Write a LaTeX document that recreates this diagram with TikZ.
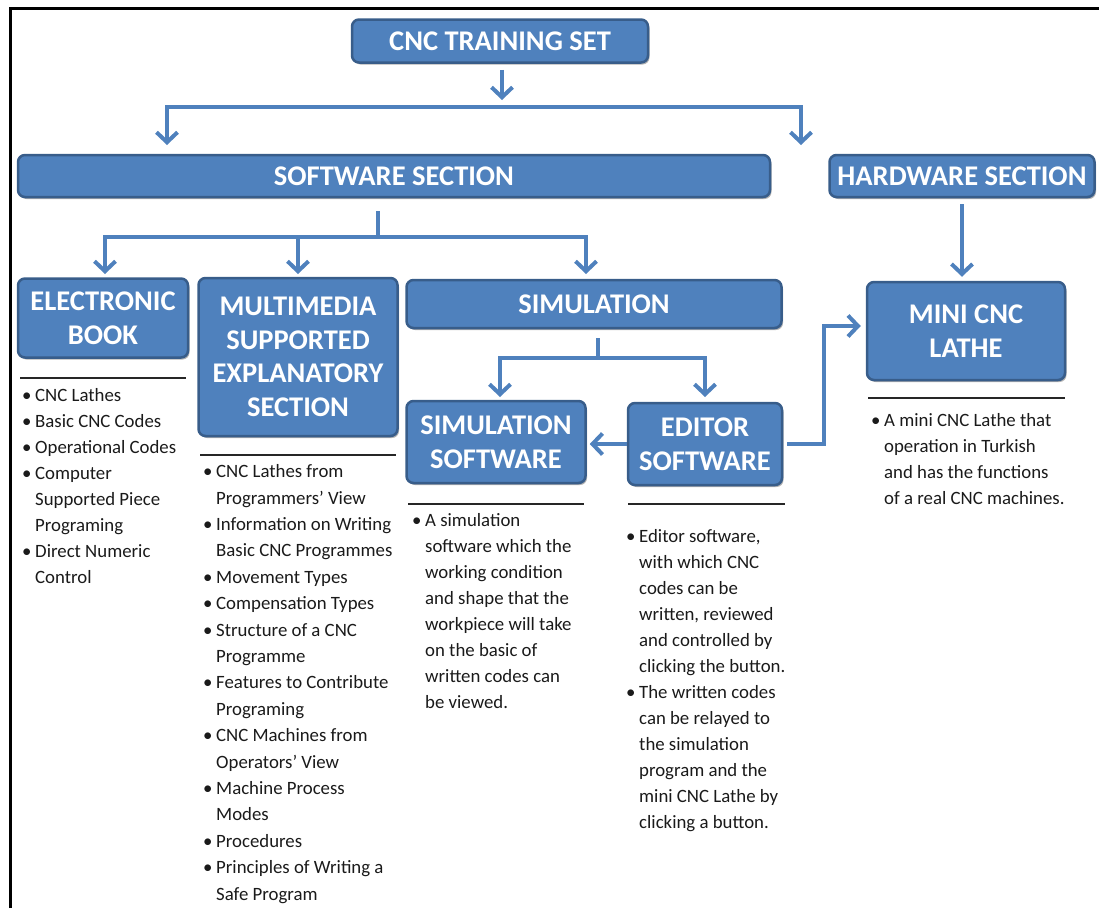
\documentclass[tikz,border=0pt]{standalone}
\usepackage{fontspec}
\setmainfont{Carlito}
\usetikzlibrary{arrows.meta,shadows}
\definecolor{boxblue}{HTML}{4F81BD}
\definecolor{boxedge}{HTML}{385D8A}
\definecolor{listtext}{HTML}{1A1A1A}
\newcommand{\itm}{\strut\makebox[13pt][l]{\textbullet}}
\newcommand{\cnt}{\strut\hspace*{13pt}}
\begin{document}
\begin{tikzpicture}[x=1pt,y=-1pt,
    box/.style={draw=boxedge,fill=boxblue,line width=2.5pt,rounded corners=7pt,
        text=white,align=center,inner sep=0pt,
        font=\bfseries\fontsize{28.5}{33.5}\selectfont,
        drop shadow={shadow xshift=1.5pt,shadow yshift=-2pt,opacity=0.3,fill=black}},
    link/.style={draw=boxblue,line width=4pt},
    tip/.style={-{Straight Barb[length=10pt,width=21pt]}},
    rule/.style={draw=black!85,line width=2pt},
    list/.style={anchor=north west,inner sep=0pt,align=left,text=listtext,
        font=\fontsize{18.8}{26}\selectfont}]
        \useasboundingbox (0,0) rectangle (1099,908);
        % Frame
            \draw[line width=3pt] (10,908) -- (10,8) -- (1099,8);
        % Boxes
            \node[box,minimum width=296pt,minimum height=43pt] (set) at (500,41) {CNC TRAINING SET};
            \node[box,minimum width=752pt,minimum height=42pt] (soft) at (394,176) {SOFTWARE SECTION};
            \node[box,minimum width=265pt,minimum height=42pt] (hard) at (962,176) {HARDWARE SECTION};
            \node[box,minimum width=170pt,minimum height=79pt] (ebook) at (103,318) {ELECTRONIC\\BOOK};
            \node[box,minimum width=199pt,minimum height=158pt] (multi) at (298,357) {MULTIMEDIA\\SUPPORTED\\EXPLANATORY\\SECTION};
            \node[box,minimum width=375pt,minimum height=48pt] (simul) at (594,304) {SIMULATION};
            \node[box,minimum width=179pt,minimum height=82pt] (simsw) at (496,442) {SIMULATION\\SOFTWARE};
            \node[box,minimum width=154pt,minimum height=82pt] (editor) at (705,444) {EDITOR\\SOFTWARE};
            \node[box,minimum width=198pt,minimum height=98pt] (mini) at (966,331) {MINI CNC\\LATHE};
        % Junctions
            \coordinate (j1) at (502,107);
            \coordinate (swin) at (167,145);
            \coordinate (hwin) at (801,145);
            \coordinate (j2) at (378,237);
            \coordinate (ebin) at (105,274);
            \coordinate (muin) at (298,274);
            \coordinate (siin) at (586,274);
            \coordinate (j3) at (598,358);
            \coordinate (ssin) at (500,397);
            \coordinate (edin) at (705,397);
        % Connectors
            \draw[link,tip] ([yshift=-6pt]set.south -| j1) -- ([yshift=7pt]j1);
            \draw[link,tip] (j1) -| (swin);
            \draw[link,tip] (j1) -| (hwin);
            \draw[link] ([yshift=-13pt]soft.south -| j2) -- (j2);
            \draw[link,tip] (j2) -| (ebin);
            \draw[link,tip] (j2) -| (muin);
            \draw[link,tip] (j2) -| (siin);
            \draw[link] ([yshift=-9pt]simul.south -| j3) -- (j3);
            \draw[link,tip] (j3) -| (ssin);
            \draw[link,tip] (j3) -| (edin);
            \draw[link,tip] (editor.west) -- ([xshift=3pt]editor.west -| simsw.east);
            \draw[link,tip] ([xshift=4pt]editor.east) -- ++(37,0) |- ([yshift=5pt,xshift=-5pt]mini.west);
            \draw[link,tip] ([yshift=-6pt]hard.south) -- ([yshift=4pt]hard.south |- mini.north);
        % Rules
            \draw[rule] (20,378) -- (186,378);
            \draw[rule] (200,455) -- (396,455);
            \draw[rule] (408,504) -- (584,504);
            \draw[rule] (628,504) -- (785,504);
            \draw[rule] (868,398) -- (1065,398);
        % Lists
            \node[list] (ebooklist) at (22,383) {\itm CNC Lathes\\\itm Basic CNC Codes\\\itm Operational Codes\\\itm Computer\\\cnt Supported Piece\\\cnt Programing\\\itm Direct Numeric\\\cnt Control};
            \node[list,font=\fontsize{18.8}{26.4}\selectfont] (multilist) at (203,459) {\itm CNC Lathes from\\\cnt Programmers' View\\\itm Information on Writing\\\cnt Basic CNC Programmes\\\itm Movement Types\\\itm Compensation Types\\\itm Structure of a CNC\\\cnt Programme\\\itm Features to Contribute\\\cnt Programing\\\itm CNC Machines from\\\cnt Operators' View\\\itm Machine Process\\\cnt Modes\\\itm Procedures\\\itm Principles of Writing a\\\cnt Safe Program};
            \node[list] (simswlist) at (412,508) {\itm A simulation\\\cnt software which the\\\cnt working condition\\\cnt and shape that the\\\cnt workpiece will take\\\cnt on the basic of\\\cnt written codes can\\\cnt be viewed.};
            \node[list] (editorlist) at (626,524) {\itm Editor software,\\\cnt with which CNC\\\cnt codes can be\\\cnt written, reviewed\\\cnt and controlled by\\\cnt clicking the button.\\\itm The written codes\\\cnt can be relayed to\\\cnt the simulation\\\cnt program and the\\\cnt mini CNC Lathe by\\\cnt clicking a button.};
            \node[list] (minilist) at (871,408) {\itm A mini CNC Lathe that\\\cnt operation in Turkish\\\cnt and has the functions\\\cnt of a real CNC machines.};
\end{tikzpicture}
\end{document}
